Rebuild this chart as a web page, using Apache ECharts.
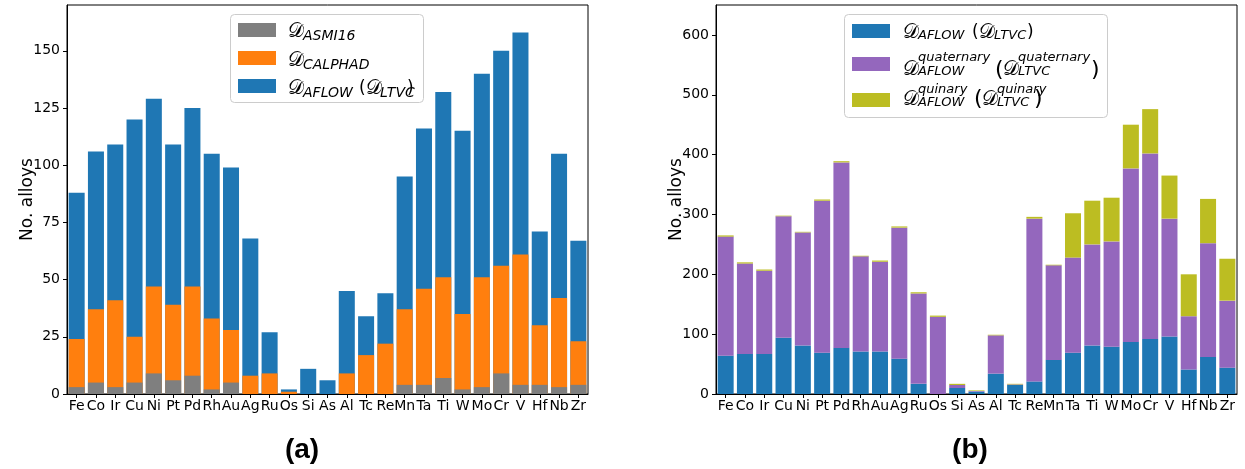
<!DOCTYPE html>
<html>
<head>
<meta charset="utf-8">
<script src="https://cdn.jsdelivr.net/npm/echarts@6/dist/echarts.min.js"></script>
<style>
html,body{margin:0;padding:0;background:#fff;}
#chart{width:1245px;height:469px;}
</style>
</head>
<body>
<div id="chart"></div>
<script>
// ---------- data ----------
const categories = ['Fe','Co','Ir','Cu','Ni','Pt','Pd','Rh','Au','Ag','Ru','Os','Si','As','Al','Tc','Re','Mn','Ta','Ti','W','Mo','Cr','V','Hf','Nb','Zr'];
// panel (a): number of alloys in each dataset (overlaid bars)
const asmi16  = [3,5,3,5,9,6,8,2,5,0,0,0,0,0,0,0,0,4,4,7,2,3,9,4,4,3,4];
const calphad = [24,37,41,25,47,39,47,33,28,8,9,1,0,0,9,17,22,37,46,51,35,51,56,61,30,42,23];
const aflowA  = [88,106,109,120,129,109,125,105,99,68,27,2,11,6,45,34,44,95,116,132,115,140,150,158,71,105,67];
// panel (b): stacked contributions
const aflowB     = [64,67,67,94,81,69,77,71,71,59,17,0,10,4,34,15,21,57,69,81,79,87,92,96,41,62,44];
const quaternary = [199,151,139,203,189,254,310,159,150,219,151,129,5,1,64,1,272,158,159,169,176,290,310,197,89,190,112];
const quinary    = [2,2,2,1,1,2,2,1,2,2,2,2,2,1,1,1,3,1,74,73,73,73,74,72,70,74,70];
// tick labels
const ticksA = [0,25,50,75,100,125,150];
const ticksB = [0,100,200,300,400,500,600];

// ---------- style ----------
const C_GRAY='#7f7f7f', C_ORANGE='#ff7f0e', C_BLUE='#1f77b4', C_PURPLE='#9467bd', C_OLIVE='#bcbd22';
const FONT = "'DejaVu Sans', sans-serif";
const DFONT = "'DejaVu Serif', 'DejaVu Sans', serif";

const chart = echarts.init(document.getElementById('chart'), null, {renderer:'canvas'});

function xAxisCfg(gi){
  return {
    type:'category', gridIndex:gi, data:categories,
    axisLine:{show:true, lineStyle:{color:'#000', width:1}},
    axisTick:{show:true, alignWithLabel:true, length:4, lineStyle:{color:'#000'}},
    axisLabel:{interval:0, color:'#000', fontSize:14, fontFamily:FONT, margin:5},
    splitLine:{show:false}
  };
}
function yAxisCfg(gi, max, interval, ticks){
  return {
    type:'value', gridIndex:gi, min:0, max:max, interval:interval,
    name:'No. alloys', nameLocation:'middle', nameGap:31, nameMoveOverlap:false,
    nameTextStyle:{fontSize:17, fontFamily:FONT, color:'#000'},
    axisLine:{show:true, lineStyle:{color:'#000', width:1}},
    axisTick:{show:true, length:4, lineStyle:{color:'#000'}, customValues:ticks},
    axisLabel:{color:'#000', fontSize:14, fontFamily:FONT, margin:7, customValues:ticks},
    splitLine:{show:false}
  };
}

// legend drawn as graphic (math-style labels)
function rect(x,y,w,h,fill){ return {type:'rect', shape:{x:x,y:y,width:w,height:h}, style:{fill:fill}, z:101}; }
function txt(x,y,s,size,italic,fam){
  return {type:'text', x:x, y:y, z:102,
    style:{text:s, fill:'#000', font:(italic?'italic ':'')+size+'px '+(fam||FONT), verticalAlign:'middle', align:'left'}};
}
const D = '\u{1D49F}';
const gfx = [];
// box (a)
gfx.push({type:'rect', shape:{x:230.5,y:14.5,width:193,height:88,r:4}, style:{fill:'rgba(255,255,255,0.8)', stroke:'#cccccc', lineWidth:1}, z:100});
[[30,C_GRAY],[58,C_ORANGE],[86,C_BLUE]].forEach(r=>gfx.push(rect(238,r[0]-7,38,14,r[1])));
gfx.push(txt(288,32,D,20,false,DFONT), txt(303,36.5,'ASMI16',14,true));
gfx.push(txt(288,61,D,20,false,DFONT), txt(303,65,'CALPHAD',14,true));
gfx.push(txt(288,89,D,20,false,DFONT), txt(303,93,'AFLOW',14,true),
         txt(359,89,'(',17,false), txt(366,89,D,20,false,DFONT), txt(380,93,'LTVC',14,true), txt(407,89,')',17,false));
// box (b)
gfx.push({type:'rect', shape:{x:844.5,y:14.5,width:263,height:103,r:4}, style:{fill:'rgba(255,255,255,0.8)', stroke:'#cccccc', lineWidth:1}, z:100});
[[31,C_BLUE],[64,C_PURPLE],[100,C_OLIVE]].forEach(r=>gfx.push(rect(852,r[0]-7,38,14,r[1])));
gfx.push(txt(903,33,D,20,false,DFONT), txt(918,36,'AFLOW',13,true),
         txt(972,33,'(',17,false), txt(979,33,D,20,false,DFONT), txt(994,36,'LTVC',13,true), txt(1027,33,')',17,false));
gfx.push(txt(903,70,D,20,false,DFONT), txt(918,58,'quaternary',13,true), txt(918,72,'AFLOW',13,true),
         txt(995,70,'(',22,false), txt(1003,70,D,20,false,DFONT), txt(1018,58,'quaternary',13,true), txt(1018,72,'LTVC',13,true), txt(1091,70,')',22,false));
gfx.push(txt(903,100,D,20,false,DFONT), txt(918,90,'quinary',13,true), txt(918,103,'AFLOW',13,true),
         txt(974,99,'(',22,false), txt(982,100,D,20,false,DFONT), txt(997,90,'quinary',13,true), txt(997,103,'LTVC',13,true), txt(1034,99,')',22,false));

const option = {
  animation:false,
  backgroundColor:'#fff',
  title:[
    {text:'(a)', left:297, top:431, textAlign:'center', textStyle:{fontSize:28, fontWeight:'bold', fontFamily:"'Liberation Sans', Arial, sans-serif", color:'#000'}},
    {text:'(b)', left:965, top:431, textAlign:'center', textStyle:{fontSize:28, fontWeight:'bold', fontFamily:"'Liberation Sans', Arial, sans-serif", color:'#000'}}
  ],
  grid:[
    {left:67, top:5, width:521, height:389, show:true, borderColor:'#000', borderWidth:1, backgroundColor:'transparent', containLabel:false},
    {left:716, top:5, width:521, height:389, show:true, borderColor:'#000', borderWidth:1, backgroundColor:'transparent', containLabel:false}
  ],
  xAxis:[xAxisCfg(0), xAxisCfg(1)],
  yAxis:[yAxisCfg(0,170,25,ticksA), yAxisCfg(1,650,100,ticksB)],
  graphic:gfx,
  series:[
    {name:'ASMI16', type:'bar', xAxisIndex:0, yAxisIndex:0, data:asmi16, itemStyle:{color:C_GRAY}, barWidth:'83%', barGap:'-100%', z:4},
    {name:'CALPHAD', type:'bar', xAxisIndex:0, yAxisIndex:0, data:calphad, itemStyle:{color:C_ORANGE}, barWidth:'83%', barGap:'-100%', z:3},
    {name:'AFLOW', type:'bar', xAxisIndex:0, yAxisIndex:0, data:aflowA, itemStyle:{color:C_BLUE}, barWidth:'83%', barGap:'-100%', z:2},
    {name:'AFLOW b', type:'bar', xAxisIndex:1, yAxisIndex:1, stack:'b', data:aflowB, itemStyle:{color:C_BLUE}, barWidth:'83%'},
    {name:'quaternary', type:'bar', xAxisIndex:1, yAxisIndex:1, stack:'b', data:quaternary, itemStyle:{color:C_PURPLE}, barWidth:'83%'},
    {name:'quinary', type:'bar', xAxisIndex:1, yAxisIndex:1, stack:'b', data:quinary, itemStyle:{color:C_OLIVE}, barWidth:'83%'}
  ]
};
chart.setOption(option);
</script>
</body>
</html>
